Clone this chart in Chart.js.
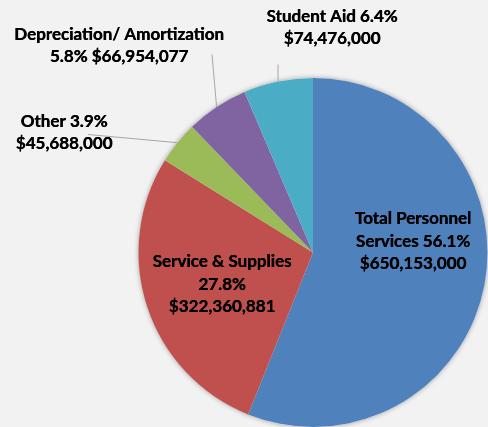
<!DOCTYPE html>
<html>
<head>
<meta charset="utf-8">
<script src="https://cdn.jsdelivr.net/npm/chart.js@4"></script>
<style>
  html, body { margin: 0; padding: 0; background: #f2f2f2; overflow: hidden; }
  #wrap { width: 488px; height: 427px; position: relative; }
</style>
</head>
<body>
<div id="wrap"><canvas id="budgetPie"></canvas></div>
<script>
const categories = ['Total Personnel Services', 'Service & Supplies', 'Other', 'Depreciation/ Amortization', 'Student Aid'];
const amounts = [650153000, 322360881, 45688000, 66954077, 74476000];
const percents = ['56.1%', '27.8%', '3.9%', '5.8%', '6.4%'];
const labelLines = [
  ['Total Personnel', 'Services 56.1%', '$650,153,000'],
  ['Service & Supplies', '27.8%', '$322,360,881'],
  ['Other 3.9%', '$45,688,000'],
  ['Depreciation/ Amortization', '5.8% $66,954,077'],
  ['Student Aid 6.4%', '$74,476,000']
];
const sliceColors = ['#4f81bd', '#c0504d', '#9bbb59', '#8064a2', '#4bacc6'];

// label block centres, relative to pie centre; leader = end point of leader line (relative)
const labelPlacement = [
  { dx: 100, dy: -11 },
  { dx: -91, dy: 32 },
  { dx: -249, dy: -120, leader: { dx: -225, dy: -118 } },
  { dx: -194, dy: -207, leader: { dx: -101, dy: -198 } },
  { dx: 19, dy: -225, leader: { dx: -35, dy: -188 } }
];

const shadowPlugin = {
  id: 'pieShadow',
  beforeDatasetsDraw(chart) {
    const arc = chart.getDatasetMeta(0).data[0];
    const ctx = chart.ctx;
    ctx.save();
    ctx.shadowColor = 'rgba(0,0,0,0.35)';
    ctx.shadowBlur = 5;
    ctx.beginPath();
    ctx.arc(arc.x, arc.y, arc.outerRadius, 0, Math.PI * 2);
    ctx.fillStyle = '#f2f2f2';
    ctx.fill();
    ctx.restore();
  }
};

const labelPlugin = {
  id: 'sliceLabels',
  afterDatasetsDraw(chart) {
    const ctx = chart.ctx;
    const meta = chart.getDatasetMeta(0);
    ctx.save();
    ctx.font = 'bold 17px Lato';
    ctx.fillStyle = '#000';
    ctx.textAlign = 'center';
    ctx.textBaseline = 'middle';
    meta.data.forEach((arc, i) => {
      const p = labelPlacement[i];
      const cx = arc.x + p.dx;
      const cy = arc.y + p.dy;
      if (p.leader) {
        const mid = (arc.startAngle + arc.endAngle) / 2;
        ctx.beginPath();
        ctx.strokeStyle = '#a6a6a6';
        ctx.lineWidth = 1;
        ctx.moveTo(arc.x + Math.cos(mid) * arc.outerRadius, arc.y + Math.sin(mid) * arc.outerRadius);
        ctx.lineTo(arc.x + p.leader.dx, arc.y + p.leader.dy);
        ctx.stroke();
      }
      const lines = labelLines[i];
      const lh = 22.5;
      const top = cy - (lines.length - 1) * lh / 2;
      lines.forEach((t, k) => {
        ctx.fillText(t, cx, top + k * lh);
        ctx.fillText(t, cx + 0.4, top + k * lh);
      });
    });
    ctx.restore();
  }
};

new Chart(document.getElementById('budgetPie'), {
  type: 'pie',
  data: {
    labels: categories,
    datasets: [{
      data: amounts,
      backgroundColor: sliceColors,
      borderWidth: 0
    }]
  },
  options: {
    responsive: true,
    maintainAspectRatio: false,
    animation: false,
    layout: { padding: { left: 138, top: 78, right: 0, bottom: 0 } },
    plugins: {
      legend: { display: false },
      tooltip: { enabled: false }
    }
  },
  plugins: [shadowPlugin, labelPlugin]
});
</script>
</body>
</html>
